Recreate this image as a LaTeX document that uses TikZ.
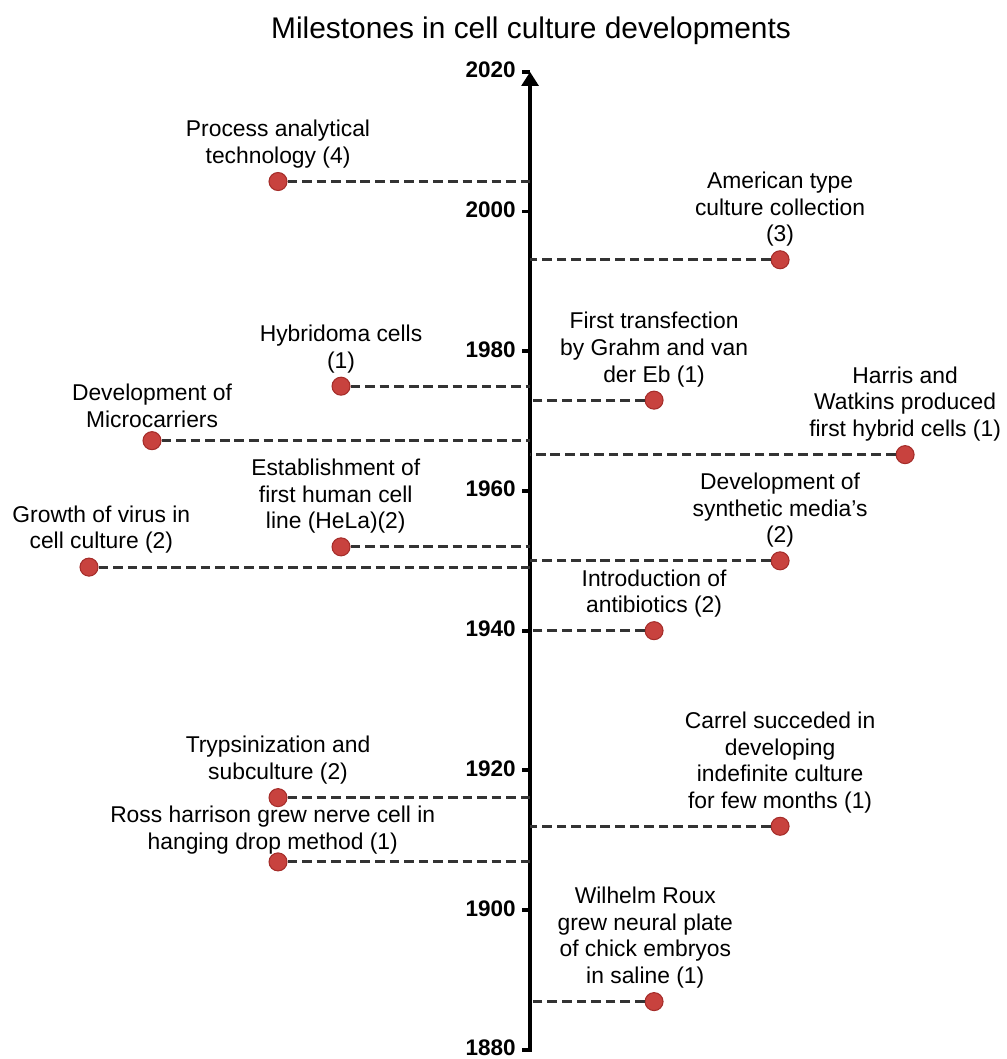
\documentclass[tikz,border=0pt]{standalone}
\usepackage{fontspec}
\setmainfont{Liberation Sans}
\usetikzlibrary{arrows.meta, positioning}

\definecolor{dotred}{RGB}{200,66,62}
\definecolor{dotedge}{RGB}{165,45,42}

\begin{document}
\begin{tikzpicture}[
    x=0.02cm,
    y=0.13972cm,
    >={Triangle[length=8pt,width=9.5pt]},
    event/.style={circle, fill=dotred, draw=dotedge, line width=0.6pt,
                  minimum size=0.36cm, inner sep=0pt},
    lbl/.style={align=center, inner sep=0pt,
                font=\fontsize{13}{15.1}\selectfont},
    conn/.style={black!80, line width=1.8pt, dash pattern=on 5.5pt off 2.8pt},
    yearlbl/.style={anchor=east, inner sep=0pt, yshift=1pt,
                    font=\fontsize{12.8}{14}\selectfont\bfseries},
    node distance=2pt,
]

    \useasboundingbox (0,1878.71) rectangle (1006,2030.31);

    \node[font=\fontsize{17}{20}\selectfont] (title) at (531,2025.9)
        {Milestones in cell culture developments};

    % time axis
    \coordinate (bot) at (530,1880);
    \coordinate (top) at (530,2020);
    \draw[line width=2.2pt, ->] (522,1880) -- (bot) -- (top);

    \foreach \yr in {1880,1900,...,2020} {
        \draw[line width=2.2pt] (522,\yr) -- (530,\yr);
        \node[yearlbl] (y\yr) at (516,\yr) {\yr};
    }

    % events (x in px, y in years)
    \node[event] (pat)   at (278,2004.3) {};
    \node[event] (atcc)  at (780,1993.1) {};
    \node[event] (hyb)   at (341,1975.0) {};
    \node[event] (trf)   at (654,1973.0) {};
    \node[event] (mcar)  at (152,1967.2) {};
    \node[event] (harr)  at (905,1965.2) {};
    \node[event] (hela)  at (341,1952.0) {};
    \node[event] (synm)  at (780,1950.0) {};
    \node[event] (vir)   at (89,1949.1)  {};
    \node[event] (abio)  at (654,1940.0) {};
    \node[event] (tryp)  at (278,1916.1) {};
    \node[event] (carr)  at (780,1912.0) {};
    \node[event] (ross)  at (278,1906.9) {};
    \node[event] (roux)  at (654,1886.9) {};

    % points on the axis
    \coordinate (pat-a)  at (530,2004.3);
    \coordinate (atcc-a) at (530,1993.1);
    \coordinate (hyb-a)  at (530,1975.0);
    \coordinate (trf-a)  at (530,1973.0);
    \coordinate (mcar-a) at (530,1967.2);
    \coordinate (harr-a) at (530,1965.2);
    \coordinate (hela-a) at (530,1952.0);
    \coordinate (synm-a) at (530,1950.0);
    \coordinate (vir-a)  at (530,1949.1);
    \coordinate (abio-a) at (530,1940.0);
    \coordinate (tryp-a) at (530,1916.1);
    \coordinate (carr-a) at (530,1912.0);
    \coordinate (ross-a) at (530,1906.9);
    \coordinate (roux-a) at (530,1886.9);

    \draw[conn]
        (pat)  -- (pat-a)
        (atcc) -- (atcc-a)
        (hyb)  -- (hyb-a)
        (trf)  -- (trf-a)
        (mcar) -- (mcar-a)
        (harr) -- (harr-a)
        (hela) -- (hela-a)
        (synm) -- (synm-a)
        (vir)  -- (vir-a)
        (abio) -- (abio-a)
        (tryp) -- (tryp-a)
        (carr) -- (carr-a)
        (ross) -- (ross-a)
        (roux) -- (roux-a)
    ;

    % labels
    \node[lbl, above=of pat]  (pat-t)  {Process analytical\\technology (4)};
    \node[lbl, above=of atcc] (atcc-t) {American type\\culture collection\\(3)};
    \node[lbl, above=of hyb]  (hyb-t)  {Hybridoma cells\\(1)};
    \node[lbl, above=of trf]  (trf-t)  {First transfection\\by Grahm and van\\der Eb (1)};
    \node[lbl, above=of mcar] (mcar-t) {Development of\\Microcarriers};
    \node[lbl, above=of harr] (harr-t) {Harris and\\Watkins produced\\first hybrid cells (1)};
    \node[lbl, above=of hela, xshift=-3pt] (hela-t) {Establishment of\\first human cell\\line (HeLa)(2)};
    \node[lbl, above=of synm] (synm-t) {Development of\\synthetic media's\\(2)};
    \node[lbl, above=of vir, xshift=7pt] (vir-t) {Growth of virus in\\cell culture (2)};
    \node[lbl, above=of abio] (abio-t) {Introduction of\\antibiotics (2)};
    \node[lbl, above=of tryp] (tryp-t) {Trypsinization and\\subculture (2)};
    \node[lbl, above=of carr] (carr-t) {Carrel succeded in\\developing\\indefinite culture\\for few months (1)};
    \node[lbl, above=-1pt of ross, xshift=-3pt] (ross-t) {Ross harrison grew nerve cell in\\hanging drop method (1)};
    \node[lbl, above=of roux, xshift=-5pt] (roux-t) {Wilhelm Roux\\grew neural plate\\of chick embryos\\in saline (1)};

\end{tikzpicture}
\end{document}
